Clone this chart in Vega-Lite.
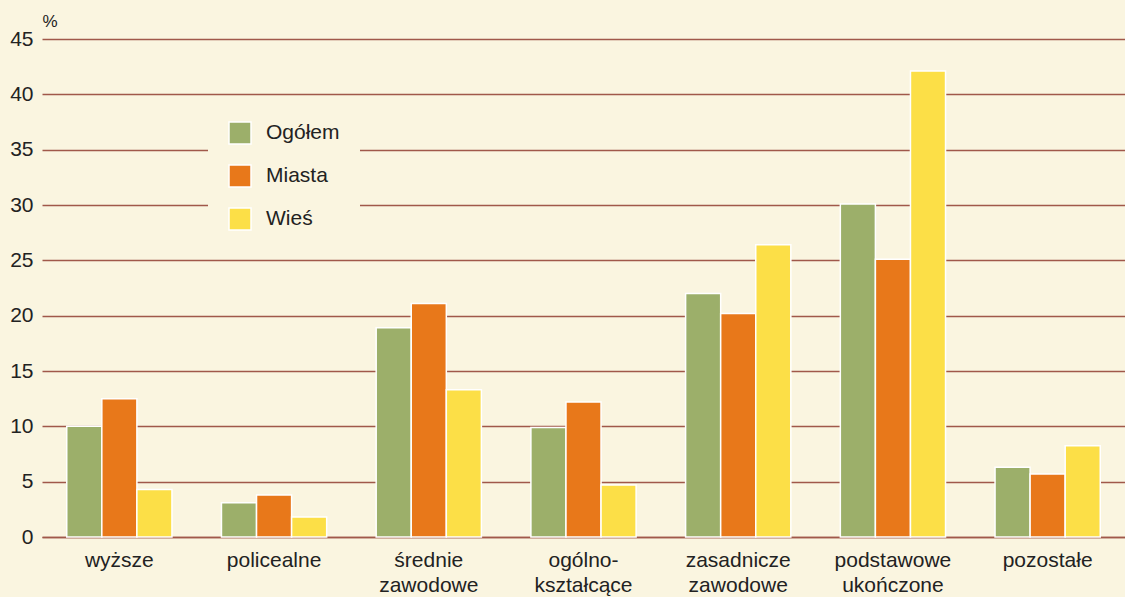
{
  "$schema": "https://vega.github.io/schema/vega-lite/v6.json",
  "width": 1083,
  "height": 498,
  "autosize": {"type": "none"},
  "padding": {"left": 42, "top": 39, "right": 0, "bottom": 60},
  "background": "#FAF5E0",
  "config": {
    "view": {"stroke": null},
    "font": "Liberation Sans"
  },
  "data": {
    "values": [
      {"kategoria": "wyższe", "grupa": "Ogółem", "wartosc": 10.0},
      {"kategoria": "wyższe", "grupa": "Miasta", "wartosc": 12.5},
      {"kategoria": "wyższe", "grupa": "Wieś", "wartosc": 4.3},
      {"kategoria": "policealne", "grupa": "Ogółem", "wartosc": 3.1},
      {"kategoria": "policealne", "grupa": "Miasta", "wartosc": 3.8},
      {"kategoria": "policealne", "grupa": "Wieś", "wartosc": 1.8},
      {"kategoria": "średnie zawodowe", "grupa": "Ogółem", "wartosc": 18.9},
      {"kategoria": "średnie zawodowe", "grupa": "Miasta", "wartosc": 21.1},
      {"kategoria": "średnie zawodowe", "grupa": "Wieś", "wartosc": 13.3},
      {"kategoria": "ogólnokształcące", "grupa": "Ogółem", "wartosc": 9.9},
      {"kategoria": "ogólnokształcące", "grupa": "Miasta", "wartosc": 12.2},
      {"kategoria": "ogólnokształcące", "grupa": "Wieś", "wartosc": 4.7},
      {"kategoria": "zasadnicze zawodowe", "grupa": "Ogółem", "wartosc": 22.0},
      {"kategoria": "zasadnicze zawodowe", "grupa": "Miasta", "wartosc": 20.2},
      {"kategoria": "zasadnicze zawodowe", "grupa": "Wieś", "wartosc": 26.4},
      {"kategoria": "podstawowe ukończone", "grupa": "Ogółem", "wartosc": 30.1},
      {"kategoria": "podstawowe ukończone", "grupa": "Miasta", "wartosc": 25.1},
      {"kategoria": "podstawowe ukończone", "grupa": "Wieś", "wartosc": 42.1},
      {"kategoria": "pozostałe", "grupa": "Ogółem", "wartosc": 6.3},
      {"kategoria": "pozostałe", "grupa": "Miasta", "wartosc": 5.7},
      {"kategoria": "pozostałe", "grupa": "Wieś", "wartosc": 8.25}
    ]
  },
  "mark": {"type": "bar", "stroke": "white", "strokeWidth": 1.5},
  "encoding": {
    "x": {
      "field": "kategoria",
      "type": "nominal",
      "sort": null,
      "scale": {"paddingInner": 0.32, "paddingOuter": 0.16},
      "axis": {
        "title": null,
        "labelAngle": 0,
        "labelFontSize": 21,
        "labelColor": "#222222",
        "labelPadding": 12,
        "labelLineHeight": 25,
        "labelBaseline": "top",
        "ticks": false,
        "domainColor": "#A0584A",
        "domainWidth": 1.5,
        "labelExpr": "datum.value == 'ogólnokształcące' ? ['ogólno-', 'kształcące'] : split(datum.value, ' ')"
      }
    },
    "xOffset": {"field": "grupa", "type": "nominal", "sort": ["Ogółem", "Miasta", "Wieś"], "scale": {"paddingInner": 0, "paddingOuter": 0}},
    "y": {
      "field": "wartosc",
      "type": "quantitative",
      "scale": {"domain": [0, 45], "nice": false},
      "axis": {
        "title": "%",
        "titleAngle": 0,
        "titleX": 0,
        "titleY": -9,
        "titleAlign": "left",
        "titleFontSize": 17,
        "titleFontWeight": "normal",
        "titleColor": "#222222",
        "values": [0, 5, 10, 15, 20, 25, 30, 35, 40, 45],
        "labelFontSize": 21,
        "labelColor": "#222222",
        "labelPadding": 9,
        "ticks": false,
        "domain": false,
        "grid": true,
        "gridColor": "#A0584A",
        "gridWidth": 1.3
      }
    },
    "color": {
      "field": "grupa",
      "type": "nominal",
      "sort": ["Ogółem", "Miasta", "Wieś"],
      "scale": {"domain": ["Ogółem", "Miasta", "Wieś"], "range": ["#9CAF6A", "#E8781A", "#FCDF47"]},
      "legend": {
        "title": null,
        "orient": "none",
        "legendX": 166,
        "legendY": 62,
        "padding": 20,
        "fillColor": "#FAF5E0",
        "symbolType": "square",
        "symbolSize": 484,
        "symbolStrokeColor": "white",
        "symbolStrokeWidth": 1.5,
        "symbolOpacity": 1,
        "labelFontSize": 21,
        "labelColor": "#222222",
        "labelOffset": 14,
        "rowPadding": 15
      }
    }
  }
}
